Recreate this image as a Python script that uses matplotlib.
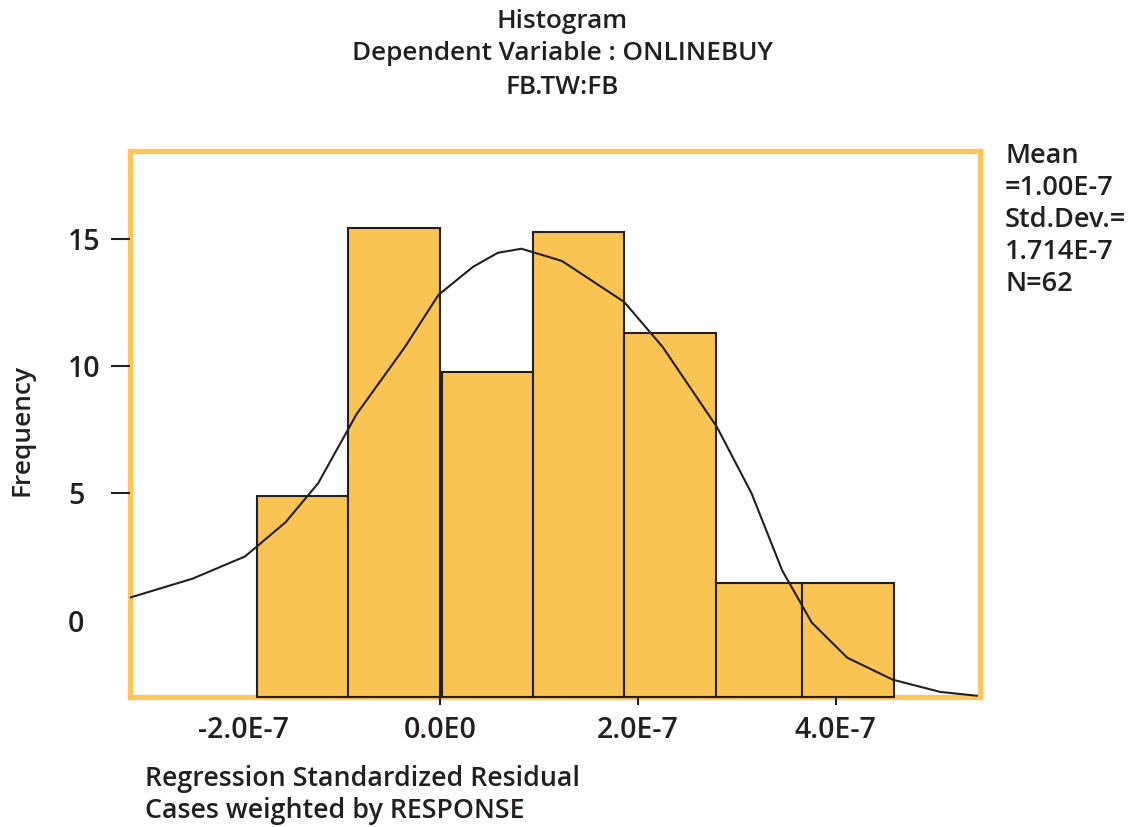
import matplotlib
matplotlib.use("Agg")
import matplotlib.pyplot as plt

plt.rcParams['font.family'] = ['Open Sans', 'DejaVu Sans']

# histogram bins (in units of 1e-7) and frequencies
bin_left = [-1.86, -0.94, 0.02, 0.94, 1.86, 2.79, 3.66]
bin_right = [-0.94, -0.01, 0.94, 1.86, 2.79, 3.66, 4.59]
freq = [4.88, 15.43, 9.76, 15.28, 11.3, 1.46, 1.46]

# fitted normal curve (polyline as drawn)
curve_x = [-3.14, -2.51, -1.98, -1.57, -1.24, -0.85, -0.36, -0.02, 0.33, 0.58,
           0.82, 1.23, 1.86, 2.25, 2.80, 3.15, 3.46, 3.76, 4.12, 4.58, 5.06, 5.43]
curve_y = [0.91, 1.65, 2.52, 3.86, 5.39, 8.11, 10.75, 12.80, 13.90, 14.45,
           14.61, 14.13, 12.52, 10.75, 7.60, 5.00, 1.97, -0.08, -1.46, -2.32, -2.80, -2.95]

xticks = [-2e-7, 0, 2e-7, 4e-7]
xtick_labels = ['-2.0E-7', '0.0E0', '2.0E-7', '4.0E-7']
yticks = [0, 5, 10, 15]

title_lines = ['Histogram', 'Dependent Variable : ONLINEBUY', 'FB.TW:FB']
stats_lines = ['Mean', '=1.00E-7', 'Std.Dev.=', '1.714E-7', 'N=62']
xlabel_lines = ['Regression Standardized Residual', 'Cases weighted by RESPONSE']

ink = '#231F20'
orange = '#FDC55C'
bar_fill = '#FAC455'

W, H = 1143, 827
fig = plt.figure(figsize=(W / 100, H / 100), dpi=100)
ax = fig.add_axes([130 / W, 1 - 697 / H, 850 / W, 546 / H])

ymin, ymax = -3.0, 18.45
ax.set_xlim(-3.144e-7, 5.463e-7)
ax.set_ylim(ymin, ymax)

for l, r, f in zip(bin_left, bin_right, freq):
    ax.bar(l * 1e-7, f - ymin, width=(r - l) * 1e-7, bottom=ymin, align='edge',
           color=bar_fill, edgecolor=ink, linewidth=1.5, clip_on=False, zorder=2)

ax.plot([x * 1e-7 for x in curve_x], curve_y, color=ink, linewidth=1.5, zorder=3)

for s in ax.spines.values():
    s.set_color(orange)
    s.set_linewidth(3.8)
    s.set_zorder(1)

ax.set_xticks(xticks)
ax.set_xticklabels(xtick_labels, fontsize=20.5, color=ink, fontweight='semibold')
ax.tick_params(axis='x', length=6, width=1.5, color=ink, pad=8)
ax.xaxis.get_major_ticks()[0].tick1line.set_visible(False)

ax.set_yticks(yticks)
ax.set_yticklabels([str(v) for v in yticks], fontsize=20.5, color=ink, fontweight='semibold')
ax.tick_params(axis='y', length=13.5, width=1.5, color=ink, pad=31)
for lab in ax.get_yticklabels():
    lab.set_horizontalalignment('left')
ax.yaxis.get_major_ticks()[0].tick1line.set_visible(False)

for i, t in enumerate(title_lines):
    fig.text(562 / W, 1 - (21 + 33 * i) / H, t, ha='center', va='center',
             fontsize=18.8, color=ink, fontweight='semibold')

for i, t in enumerate(stats_lines):
    fig.text(1005 / W, 1 - (156 + 32 * i) / H, t, ha='left', va='center',
             fontsize=19.5, color=ink, fontweight='semibold')

for i, t in enumerate(xlabel_lines):
    fig.text(145 / W, 1 - (779 + 32 * i) / H, t, ha='left', va='center',
             fontsize=19.3, color=ink, fontweight='semibold')

fig.text(22 / W, 1 - 430 / H, 'Frequency', rotation=90, ha='center', va='center',
         fontsize=19, color=ink, fontweight='semibold')

fig.savefig('out.png', dpi=100)
